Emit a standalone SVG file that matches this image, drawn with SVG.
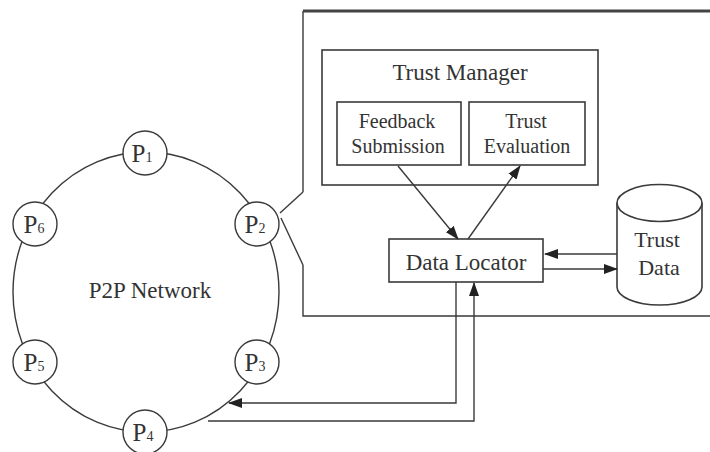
<svg xmlns="http://www.w3.org/2000/svg" width="710" height="452" viewBox="0 0 710 452">
<style>
  .ln{fill:none;stroke:#3a3a3a;stroke-width:1.4}
  .box{fill:#fff;stroke:#3a3a3a;stroke-width:1.6}
  .t{font-family:"Liberation Serif","Times New Roman",serif;fill:#333;text-anchor:middle}
  .node{fill:#fff;stroke:#3a3a3a;stroke-width:1.4}
</style>
<defs>
  <marker id="ah" markerUnits="userSpaceOnUse" markerWidth="14" markerHeight="10" viewBox="0 0 14 10" refX="13" refY="5" orient="auto">
    <path d="M0,0 L14,5 L0,10 Z" fill="#222"/>
  </marker>
</defs>
<rect width="710" height="452" fill="#fff"/>

<g id="container">
  <path class="ln" d="M303,192 V11" />
  <line x1="303" y1="11" x2="710" y2="11" stroke="#444" stroke-width="3"/>
  <path class="ln" d="M303,265 V316 H710" stroke-width="1.8"/>
</g>

<g id="network">
  <ellipse cx="146" cy="292" rx="133" ry="140" class="ln"/>
  <text class="t" x="150" y="298" font-size="23">P2P Network</text>
</g>

<g id="P1"><circle class="node" cx="145" cy="153" r="22"/><text class="t" x="142" y="162" font-size="25">P<tspan font-size="14">1</tspan></text></g>
<g id="P2"><circle class="node" cx="257" cy="224" r="22"/><text class="t" x="255" y="233" font-size="25">P<tspan font-size="14">2</tspan></text></g>
<g id="P3"><circle class="node" cx="257" cy="362" r="22"/><text class="t" x="255" y="371" font-size="25">P<tspan font-size="14">3</tspan></text></g>
<g id="P4"><circle class="node" cx="145" cy="432" r="22"/><text class="t" x="143" y="441" font-size="25">P<tspan font-size="14">4</tspan></text></g>
<g id="P5"><circle class="node" cx="35" cy="362" r="22"/><text class="t" x="34" y="371" font-size="25">P<tspan font-size="14">5</tspan></text></g>
<g id="P6"><circle class="node" cx="35" cy="224" r="22"/><text class="t" x="34" y="233" font-size="25">P<tspan font-size="14">6</tspan></text></g>

<g id="trust-manager">
  <rect class="box" x="322" y="50" width="276" height="135"/>
  <text class="t" x="460" y="80" font-size="23">Trust Manager</text>
</g>
<g id="feedback-submission">
  <rect class="box" x="337" y="102" width="124" height="63"/>
  <text class="t" x="397" y="128" font-size="20">Feedback</text>
  <text class="t" x="398" y="153" font-size="20">Submission</text>
</g>
<g id="trust-evaluation">
  <rect class="box" x="469" y="102" width="116" height="63"/>
  <text class="t" x="526" y="128" font-size="20">Trust</text>
  <text class="t" x="527" y="153" font-size="20">Evaluation</text>
</g>
<g id="data-locator">
  <rect class="box" x="389" y="239" width="154" height="43"/>
  <text class="t" x="466" y="270" font-size="23">Data Locator</text>
</g>
<g id="trust-data">
  <path class="box" d="M617,203 V287 A42.5,18 0 0 0 702,287 V203"/>
  <ellipse class="box" cx="659.5" cy="203" rx="42.5" ry="18.5"/>
  <text class="t" x="657" y="247" font-size="22">Trust</text>
  <text class="t" x="659" y="275" font-size="22">Data</text>
</g>

<g id="connectors">
  <path class="ln" d="M280,213 L303,192"/>
  <path class="ln" d="M281,218 L303,265"/>
  <path class="ln" d="M398,166 L458,239" marker-end="url(#ah)"/>
  <path class="ln" d="M468,239 L520,166" marker-end="url(#ah)"/>
  <path class="ln" d="M617,254 H545" marker-end="url(#ah)"/>
  <path class="ln" d="M543,269 H617" marker-end="url(#ah)"/>
  <path class="ln" d="M456,282 V403 H229" marker-end="url(#ah)"/>
  <path class="ln" d="M208,421 H474 V283" marker-end="url(#ah)"/>
</g>
</svg>
